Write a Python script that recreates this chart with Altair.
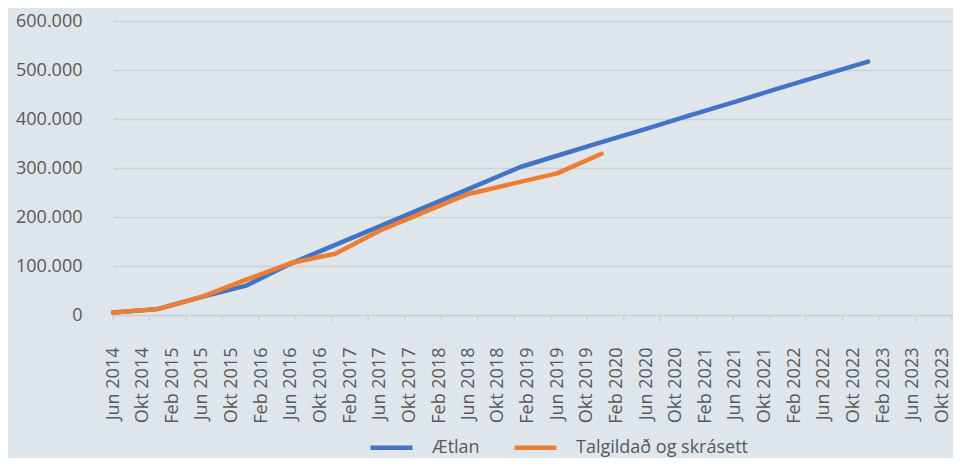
import altair as alt
import pandas as pd

# Series: planned (Ætlan) and actual (Talgildað og skrásett)
plan_dates = ["2014-06-01", "2014-12-01", "2015-06-01", "2015-12-01", "2016-06-01",
              "2016-12-01", "2017-06-01", "2017-12-01", "2018-06-01", "2019-01-01",
              "2019-06-01", "2019-12-01", "2020-06-01", "2020-12-01", "2021-06-01",
              "2021-12-01", "2022-06-01", "2022-12-01"]
plan_values = [5000, 12000, 37000, 60000, 105000,
               143000, 181000, 219000, 257000, 302000,
               325000, 353000, 380000, 408000, 435000,
               463000, 490000, 517000]

actual_dates = ["2014-06-01", "2014-12-01", "2015-06-01", "2015-12-01", "2016-06-01",
                "2016-12-01", "2017-06-01", "2017-12-01", "2018-06-01", "2018-12-01",
                "2019-06-01", "2019-12-01"]
actual_values = [5000, 12000, 37000, 72000, 106000,
                 125000, 172000, 210000, 247000, 268000,
                 289000, 329000]

series_names = ["Ætlan", "Talgildað og skrásett"]
series_colors = ["#4472C4", "#ED7D31"]

# x-axis label positions (every 4 months)
label_dates = ["2014-06-01", "2014-10-01", "2015-02-01", "2015-06-01", "2015-10-01",
               "2016-02-01", "2016-06-01", "2016-10-01", "2017-02-01", "2017-06-01",
               "2017-10-01", "2018-02-01", "2018-06-01", "2018-10-01", "2019-02-01",
               "2019-06-01", "2019-10-01", "2020-02-01", "2020-06-01", "2020-10-01",
               "2021-02-01", "2021-06-01", "2021-10-01", "2022-02-01", "2022-06-01",
               "2022-10-01", "2023-02-01", "2023-06-01", "2023-10-01"]
y_ticks = [0, 100000, 200000, 300000, 400000, 500000, 600000]

# axis tick marks (date axis, every 150 days)
tick_dates = [d.strftime("%Y-%m-%d") for d in pd.date_range("2014-06-01", periods=24, freq="150D")]

df = pd.DataFrame({
    "date": plan_dates + actual_dates,
    "value": plan_values + actual_values,
    "series": [series_names[0]] * len(plan_dates) + [series_names[1]] * len(actual_dates),
    "order": list(range(len(plan_dates))) + list(range(len(actual_dates))),
})
ticks_df = pd.DataFrame({"date": tick_dates})

label_ms = [int(pd.Timestamp(d, tz="UTC").value // 10**6) for d in label_dates]

FONT = "Open Sans"
TXT = "#595959"
GRID = "#cdd1d2"

xscale = alt.Scale(type="utc",
                   domain=[alt.DateTime(year=2014, month=6, date=1, utc=True),
                           alt.DateTime(year=2023, month=11, date=15, utc=True)])

x_axis = alt.Axis(values=label_ms, labelAngle=270, labelAlign="right", labelBaseline="middle",
                  labelPadding=32, ticks=False, tickSize=0, grid=False,
                  domain=True, domainColor=GRID, domainWidth=1.5,
                  labelExpr="(utcmonth(datum.value)==5 ? 'Jun' : utcmonth(datum.value)==9 ? 'Okt' : 'Feb') + ' ' + utcyear(datum.value)")

lines = alt.Chart(df).mark_line(strokeWidth=4.5, strokeCap="round", strokeJoin="round").encode(
    x=alt.X("date:T", scale=xscale, title=None, axis=x_axis),
    y=alt.Y("value:Q", scale=alt.Scale(domain=[0, 600000]), title=None,
            axis=alt.Axis(values=y_ticks, grid=True, gridColor=GRID, gridWidth=1.5,
                          domain=False, ticks=False, tickSize=0, labelPadding=31,
                          labelExpr="replace(format(datum.value, ','), ',', '.')")),
    color=alt.Color("series:N", scale=alt.Scale(domain=series_names, range=series_colors),
                    legend=alt.Legend(title=None, orient="none", legendX=255, legendY=403,
                                      direction="horizontal", symbolType="stroke",
                                      symbolStrokeWidth=4.5, symbolSize=1764,
                                      labelOffset=17, columnPadding=25, labelLimit=400,
                                      labelFont=FONT, labelFontSize=18, labelColor=TXT)),
    order="order:Q",
)

ticks = alt.Chart(ticks_df).mark_rule(color=GRID, strokeWidth=1.5).encode(
    x=alt.X("date:T", scale=xscale, title=None, axis=x_axis),
    y=alt.value(294),
    y2=alt.value(300),
)

chart = alt.layer(lines, ticks).properties(
    width=840, height=294,
    background="#dee6eb",
    padding={"left": 105, "top": 13, "right": 0, "bottom": 143},
    autosize=alt.AutoSizeParams(type="none"),
).configure_view(strokeWidth=0).configure_axis(
    labelFont=FONT, labelFontSize=18, labelColor=TXT,
)

chart.save("out.html", embed_options={"renderer": "svg", "actions": False})
